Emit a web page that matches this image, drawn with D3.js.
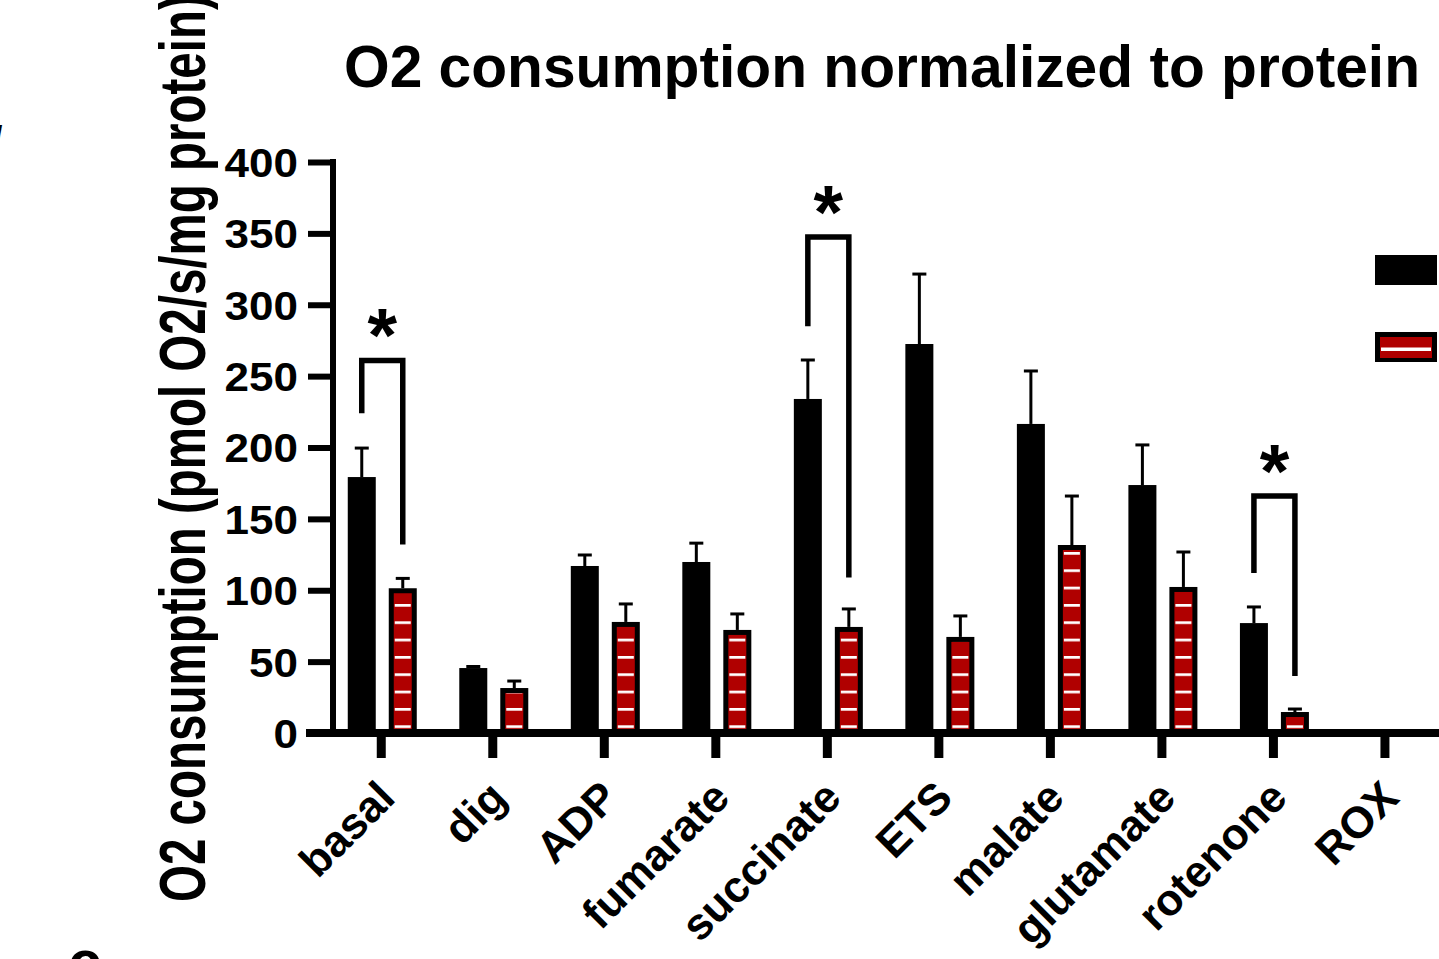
<!DOCTYPE html>
<meta charset="utf-8">
<style>
body { margin: 0; background: #fff; }
svg { display: block; }
text { font-family: "Liberation Sans", Arial, sans-serif; font-weight: bold; fill: #000; }
</style>
<svg width="1439" height="959"></svg>
<script src="https://cdn.jsdelivr.net/npm/d3@7"></script>
<script>
// values (pmol O2/s/mg protein)
var categories = ["basal", "dig", "ADP", "fumarate", "succinate", "ETS", "malate", "glutamate", "rotenone", "ROX"];
var blackMeans = [179.3, 45.5, 117, 119.8, 234, 272.5, 216.5, 173.7, 77, 0];
var blackErrs  = [20.3, 1.1, 7.7, 13.2, 27.3, 49, 37.1, 28.1, 11.3, 0];
var redMeans   = [101.4, 31.5, 77.8, 72.2, 74.3, 67.3, 131.7, 102.3, 14.7, 0];
var redErrs    = [6.9, 4.9, 12.6, 11.2, 12.6, 14.7, 34.3, 24.5, 2.1, 0];
var yTicks = [0, 50, 100, 150, 200, 250, 300, 350, 400];

// significance brackets: left leg end, top, right leg end
var sigCats  = ["basal", "succinate", "rotenone"];
var sigLeft  = [224, 285, 112];
var sigTop   = [261, 347.5, 166];
var sigRight = [132, 109, 40];

var svg = d3.select("svg");
var red = "#b00000";

var x = d3.scaleBand().domain(categories).range([325.5, 1440.7]);
var x1 = d3.scaleBand().domain(["black", "red"]).range([-33.5, 35.5]).paddingInner(0.317);
var y = d3.scaleLinear().domain([0, 400]).range([733, 162]);

function cx(c) { return x(c) + x.bandwidth() / 2; }

// stripe pattern for the red bars, anchored to the baseline
var defs = svg.append("defs");
var pat = defs.append("pattern")
  .attr("id", "stripes")
  .attr("patternUnits", "userSpaceOnUse")
  .attr("x", 0).attr("y", 725.3)
  .attr("width", 10).attr("height", 17.33);
pat.append("rect").attr("x", 0).attr("y", 0).attr("width", 10).attr("height", 2.7).attr("fill", "#fff");

// title
svg.append("text")
  .attr("x", 882).attr("y", 87)
  .attr("text-anchor", "middle")
  .attr("font-size", 58.7)
  .text("O2 consumption normalized to protein");

// y label
svg.append("text")
  .attr("transform", "translate(205,902) scale(1.38,1) rotate(-90)")
  .attr("font-size", 47.5)
  .text("O2 consumption (pmol O2/s/mg protein)");

var data = categories.map(function(c, i) {
  return {cat: c, bm: blackMeans[i], be: blackErrs[i], rm: redMeans[i], re: redErrs[i]};
});

var g = svg.append("g");

// black bars
g.selectAll(".bb").data(data).enter().append("rect")
  .attr("class", "bb")
  .attr("x", function(d) { return cx(d.cat) + x1("black"); })
  .attr("y", function(d) { return y(d.bm); })
  .attr("width", x1.bandwidth())
  .attr("height", function(d) { return y(0) - y(d.bm); })
  .attr("fill", "#000");

// red bars: black outline, red fill, white dashes
var rb = g.selectAll(".rb").data(data.filter(function(d) { return d.rm > 0; })).enter().append("g").attr("class", "rb");
rb.append("rect")
  .attr("x", function(d) { return cx(d.cat) + x1("red"); })
  .attr("y", function(d) { return y(d.rm); })
  .attr("width", x1.bandwidth())
  .attr("height", function(d) { return y(0) - y(d.rm); })
  .attr("fill", "#000");
rb.append("rect")
  .attr("x", function(d) { return cx(d.cat) + x1("red") + 5; })
  .attr("y", function(d) { return y(d.rm) + 5; })
  .attr("width", x1.bandwidth() - 10)
  .attr("height", function(d) { return Math.max(0, y(0) - y(d.rm) - 5); })
  .attr("fill", red);
rb.append("rect")
  .attr("x", function(d) { return cx(d.cat) + x1("red") + 6; })
  .attr("y", function(d) { return y(d.rm) + 5; })
  .attr("width", x1.bandwidth() - 12)
  .attr("height", function(d) { return Math.max(0, y(0) - y(d.rm) - 5); })
  .attr("fill", "url(#stripes)");

// error bars (upward only)
function errBars(key, mean, err) {
  var sel = g.selectAll(".e" + key).data(data.filter(function(d) { return d[mean] > 0; })).enter().append("g");
  sel.append("line")
    .attr("x1", function(d) { return cx(d.cat) + x1(key) + x1.bandwidth() / 2; })
    .attr("x2", function(d) { return cx(d.cat) + x1(key) + x1.bandwidth() / 2; })
    .attr("y1", function(d) { return y(d[mean]); })
    .attr("y2", function(d) { return y(d[mean] + d[err]); })
    .attr("stroke", "#000").attr("stroke-width", 3);
  sel.append("line")
    .attr("x1", function(d) { return cx(d.cat) + x1(key) + x1.bandwidth() / 2 - 7; })
    .attr("x2", function(d) { return cx(d.cat) + x1(key) + x1.bandwidth() / 2 + 7; })
    .attr("y1", function(d) { return y(d[mean] + d[err]); })
    .attr("y2", function(d) { return y(d[mean] + d[err]); })
    .attr("stroke", "#000").attr("stroke-width", 3);
}
errBars("black", "bm", "be");
errBars("red", "rm", "re");

// y axis
var yAxis = svg.append("g")
  .attr("transform", "translate(333,0)")
  .call(d3.axisLeft(y).tickValues(yTicks).tickSize(25).tickSizeOuter(0));
yAxis.select(".domain").attr("stroke-width", 6).attr("d", "M0," + (y(400) - 3) + "V" + (y(0) + 4));
yAxis.selectAll(".tick line").attr("stroke-width", 6);
yAxis.selectAll(".tick text")
  .attr("x", -35 / 1.1)
  .attr("transform", "scale(1.1,1)")
  .attr("font-size", 40)
  .attr("dy", "0.36em")
  .style("font-family", "'Liberation Sans', Arial, sans-serif")
  .style("font-weight", "bold");

// x axis
var xAxis = svg.append("g")
  .attr("transform", "translate(0," + y(0) + ")")
  .call(d3.axisBottom(x).tickSize(25).tickSizeOuter(0).tickFormat(""));
xAxis.select(".domain").attr("stroke-width", 8).attr("d", "M306,0H1440");
xAxis.selectAll(".tick line").attr("stroke-width", 9);

svg.append("g").selectAll("text").data(categories).enter().append("text")
  .attr("transform", function(c) { return "translate(" + (cx(c) + 16) + ",800) rotate(-45)"; })
  .attr("text-anchor", "end")
  .attr("font-size", 44)
  .text(function(c) { return c; });

// significance brackets
var sig = sigCats.map(function(c, i) { return {cat: c, l: sigLeft[i], t: sigTop[i], r: sigRight[i]}; });
svg.append("g").selectAll("path").data(sig).enter().append("path")
  .attr("d", function(d) {
    var xl = cx(d.cat) + x1("black") + x1.bandwidth() / 2;
    var xr = cx(d.cat) + x1("red") + x1.bandwidth() / 2;
    return "M" + xl + "," + y(d.l) + "V" + y(d.t) + "H" + xr + "V" + y(d.r);
  })
  .attr("fill", "none").attr("stroke", "#000").attr("stroke-width", 5.5);
svg.append("g").selectAll("text").data(sig).enter().append("text")
  .attr("x", function(d) { return cx(d.cat) + (x1("black") + x1("red") + x1.bandwidth()) / 2; })
  .attr("y", function(d) { return y(d.t) - 37 + 38; })
  .attr("text-anchor", "middle")
  .attr("font-size", 76)
  .text("*");

// legend swatches (labels run off the right edge)
svg.append("rect").attr("x", 1375).attr("y", 255).attr("width", 62).attr("height", 30).attr("fill", "#000");
svg.append("rect").attr("x", 1375).attr("y", 332).attr("width", 62).attr("height", 30).attr("fill", "#000");
svg.append("rect").attr("x", 1380).attr("y", 337).attr("width", 52).attr("height", 21).attr("fill", red);
svg.append("rect").attr("x", 1381).attr("y", 347.5).attr("width", 50).attr("height", 3.5).attr("fill", "#fff");

// fragments of neighbouring panels at the edges
svg.append("text").attr("x", -6).attr("y", 147).attr("font-size", 30).attr("font-weight", "normal").text("/");
svg.append("text").attr("x", 68).attr("y", 982).attr("font-size", 60).text("c");
svg.append("text").attr("x", 146).attr("y", 1000).attr("font-size", 60).text("E");
</script>
